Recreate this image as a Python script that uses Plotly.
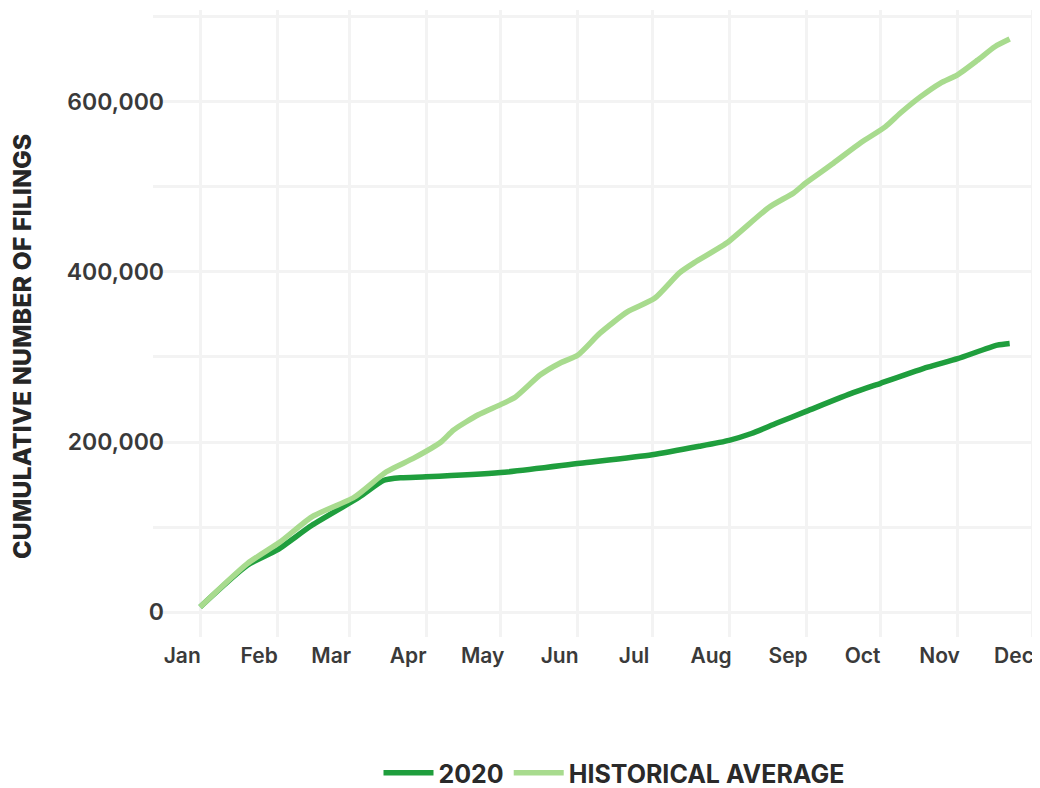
import plotly.graph_objects as go

# ---- data ----
hist_dates = ["2020-01-01", "2020-01-20", "2020-02-02", "2020-02-15", "2020-03-03", "2020-03-16",
              "2020-03-27", "2020-04-07", "2020-04-12", "2020-04-22", "2020-05-01", "2020-05-07",
              "2020-05-17", "2020-05-25", "2020-06-01", "2020-06-10", "2020-06-21", "2020-07-02",
              "2020-07-12", "2020-07-18", "2020-07-31", "2020-08-17", "2020-08-27", "2020-09-01",
              "2020-09-12", "2020-09-23", "2020-10-03", "2020-10-09", "2020-10-17", "2020-10-25",
              "2020-11-01", "2020-11-09", "2020-11-16", "2020-11-22"]
hist_values = [6000, 57000, 82000, 112000, 135000, 165000,
               181000, 200000, 214000, 232000, 244000, 253000,
               279000, 293000, 302000, 328000, 353000, 369000,
               399000, 411000, 434000, 476000, 493000, 505000,
               528000, 552000, 571000, 587000, 606000, 622000,
               632000, 649000, 665000, 674000]

y2020_dates = ["2020-01-01", "2020-01-20", "2020-02-01", "2020-02-15", "2020-03-05", "2020-03-15",
               "2020-03-22", "2020-04-01", "2020-05-01", "2020-06-02", "2020-07-01", "2020-07-20",
               "2020-08-01", "2020-08-10", "2020-08-20", "2020-09-01", "2020-09-20", "2020-10-01",
               "2020-10-20", "2020-11-01", "2020-11-17", "2020-11-22"]
y2020_values = [6000, 55000, 73000, 102000, 135000, 155000,
                158000, 159000, 164000, 175000, 185000, 195000,
                202000, 210000, 222000, 236000, 258000, 269000,
                288000, 298000, 314000, 316000]

y_tickvals = [0, 100000, 200000, 300000, 400000, 500000, 600000, 700000]
y_ticktext = ["0", "", "200,000", "", "400,000", "", "600,000", ""]
month_ticks = ["2020-%02d-01" % m for m in range(1, 13)]
month_labels = ["Jan", "Feb", "Mar", "Apr", "May", "Jun", "Jul", "Aug", "Sep", "Oct", "Nov", "Dec"]

DARK = "#1f9e3d"
LIGHT = "#a8db8e"
FONT = "Inter"

# the page body has an 8px margin, so the figure is sized to the remaining viewport
W, H = 1032, 780
L, R, T, B = 145, 0, 2, 151
PW, PH = W - L - R, H - T - B
OFF = 8  # page offset of the figure


def py(page_y):
    return (PH + T - (page_y - OFF)) / PH


def px(page_x):
    return ((page_x - OFF) - L) / PW


fig = go.Figure()
fig.add_trace(go.Scatter(x=y2020_dates, y=y2020_values, mode="lines", name="2020",
                         line=dict(color=DARK, width=5.5, shape="spline", smoothing=0.6)))
fig.add_trace(go.Scatter(x=hist_dates, y=hist_values, mode="lines", name="HISTORICAL AVERAGE",
                         line=dict(color=LIGHT, width=5.5, shape="spline", smoothing=0.6)))

fig.update_layout(
    width=W, height=H, autosize=False,
    margin=dict(l=L, r=R, t=T, b=B, autoexpand=False),
    plot_bgcolor="white", paper_bgcolor="white",
    font=dict(family=FONT, color="#3a3a3a"),
    showlegend=True,
    legend=dict(orientation="h", xref="paper", yref="paper",
                x=px(614), xanchor="center", y=py(773), yanchor="middle",
                font=dict(family=FONT, size=25, color="#2a2a2a", weight=700),
                itemwidth=50, traceorder="normal", borderwidth=0),
    xaxis=dict(type="date", range=["2019-12-13", "2020-12-04 05:00"], automargin=False,
               tickvals=month_ticks, ticktext=month_labels,
               showgrid=True, gridcolor="#f3f3f3", gridwidth=3,
               zeroline=False, showline=False, ticks="",
               tickfont=dict(family=FONT, size=21, color="#3a3a3a", weight=600),
               ticklabelshift=-18, ticklabelstandoff=4),
    yaxis=dict(range=[-29400, 708200], tickvals=y_tickvals, ticktext=y_ticktext, automargin=False,
               showgrid=True, gridcolor="#f3f3f3", gridwidth=3,
               zeroline=False, showline=False, ticks="",
               tickfont=dict(family=FONT, size=23, color="#3a3a3a", weight=600),
               ticklabelstandoff=-12),
    annotations=[dict(text="CUMULATIVE NUMBER OF FILINGS", xref="paper", yref="paper",
                      x=px(22), y=py(347), textangle=-90,
                      showarrow=False, xanchor="center", yanchor="middle",
                      font=dict(family=FONT, size=25, color="#262626", weight=800))],
)

fig.write_html("out.html")
